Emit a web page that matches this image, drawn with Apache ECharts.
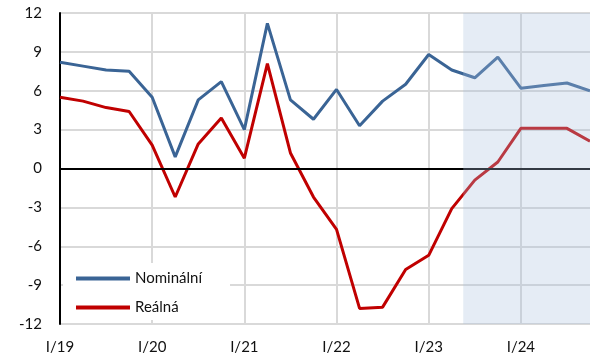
<!DOCTYPE html>
<html lang="cs">
<head>
  <meta charset="UTF-8">
  <title>Nominální a reálná</title>
  <script src="https://cdn.jsdelivr.net/npm/echarts@6/dist/echarts.min.js"></script>
  <style>
    * { margin: 0; padding: 0; box-sizing: border-box; }
    body { background: #fff; }
    #chart { width: 590px; height: 360px; }
  </style>
</head>
<body>
  <div id="chart"></div>
  <script>
    // čtvrtletí I/19 – IV/24
    const quarters = [
      'I/19', 'II/19', 'III/19', 'IV/19',
      'I/20', 'II/20', 'III/20', 'IV/20',
      'I/21', 'II/21', 'III/21', 'IV/21',
      'I/22', 'II/22', 'III/22', 'IV/22',
      'I/23', 'II/23', 'III/23', 'IV/23',
      'I/24', 'II/24', 'III/24', 'IV/24'
    ];
    const nominalni = [
      8.2, 7.9, 7.6, 7.5, 5.5, 0.9, 5.3, 6.7,
      3.0, 11.2, 5.3, 3.8, 6.1, 3.3, 5.2, 6.5,
      8.8, 7.6, 7.0, 8.6, 6.2, 6.4, 6.6, 6.0
    ];
    const realna = [
      5.5, 5.2, 4.7, 4.4, 1.8, -2.2, 1.9, 3.9,
      0.8, 8.1, 1.2, -2.2, -4.7, -10.8, -10.7, -7.8,
      -6.7, -3.1, -0.9, 0.5, 3.1, 3.1, 3.1, 2.1
    ];
    const yTicks = { min: -12, max: 12, step: 3 };
    const forecastFrom = 17.5;   // mezi II/23 a III/23

    const toPairs = arr => arr.map((v, i) => [i, v]);
    const font = 'Lato, "Open Sans", sans-serif';

    const chart = echarts.init(document.getElementById('chart'));

    const option = {
      animation: false,
      textStyle: { fontFamily: font },
      grid: { left: 60, right: 0, top: 13, bottom: 36, containLabel: false },
      legend: {
        data: ['Nominální', 'Reálná'],
        orient: 'vertical',
        left: 63,
        top: 263,
        icon: 'rect',
        padding: [8, 28, 5, 13],
        backgroundColor: '#fff',
        itemWidth: 54,
        itemHeight: 4,
        itemGap: 14,
        textStyle: { fontSize: 15, color: '#111', fontFamily: font }
      },
      xAxis: {
        type: 'value',
        min: 0,
        max: quarters.length - 1,
        interval: 4,
        axisLine: { show: false },
        axisTick: { show: false },
        axisLabel: {
          fontSize: 15,
          color: '#111',
          margin: 16,
          showMaxLabel: false,
          formatter: v => (v % 4 === 0 ? quarters[v] : '')
        },
        splitLine: {
          show: true,
          showMinLine: false,
          showMaxLine: false,
          lineStyle: { color: '#d9d9d9', width: 2 }
        }
      },
      yAxis: {
        type: 'value',
        min: yTicks.min,
        max: yTicks.max,
        interval: yTicks.step,
        axisLine: { show: true, onZero: false, lineStyle: { color: '#000', width: 2 } },
        axisTick: { show: false },
        axisLabel: { fontSize: 15, color: '#111', margin: 18 },
        splitLine: { lineStyle: { color: '#d9d9d9', width: 2 } }
      },
      series: [
        {
          name: 'zero',
          type: 'line',
          data: [],
          z: 1,
          silent: true,
          markLine: {
            silent: true,
            symbol: 'none',
            label: { show: false },
            lineStyle: { color: '#000', width: 2, type: 'solid' },
            data: [{ yAxis: 0 }]
          }
        },
        {
          name: 'Nominální',
          type: 'line',
          data: toPairs(nominalni),
          symbol: 'none',
          z: 3,
          lineStyle: { color: '#3a6495', width: 3 },
          itemStyle: { color: '#3a6495' }
        },
        {
          name: 'Reálná',
          type: 'line',
          data: toPairs(realna),
          symbol: 'none',
          z: 3,
          lineStyle: { color: '#c00000', width: 3 },
          itemStyle: { color: '#c00000' }
        },
        {
          name: 'prognoza',
          type: 'line',
          data: [],
          z: 5,
          silent: true,
          markArea: {
            silent: true,
            z: 10,
            itemStyle: { color: 'rgba(168,192,222,0.3)' },
            data: [[{ xAxis: forecastFrom }, { xAxis: quarters.length - 1 }]]
          }
        }
      ]
    };

    chart.setOption(option);
  </script>
</body>
</html>
